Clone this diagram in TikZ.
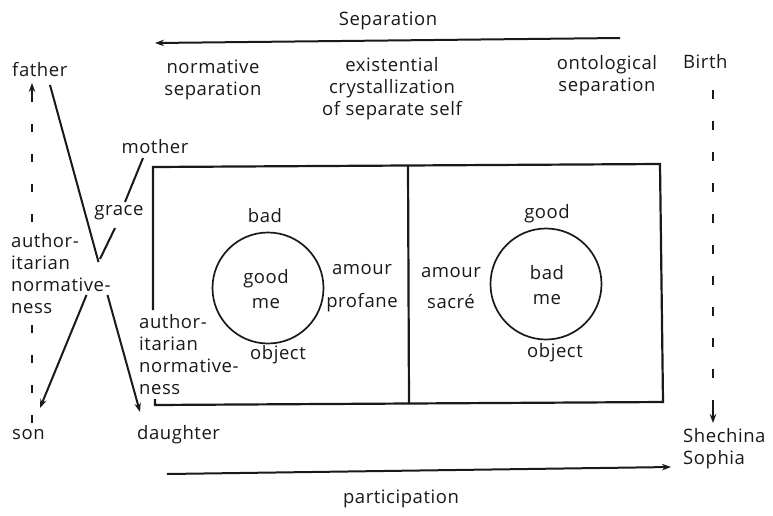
\documentclass[tikz,border=0pt]{standalone}
\usepackage{fontspec}
\setmainfont[LetterSpace=3]{Open Sans}
\usetikzlibrary{arrows.meta}
\begin{document}
\begin{tikzpicture}[x=1pt,y=-1pt,
  lbl/.style={inner sep=0pt, font=\fontsize{18.5}{22}\selectfont, align=center, text=black!90},
  lblw/.style={lbl, align=left, anchor=west},
  ln/.style={line width=2pt, draw=black!90},
  arr/.style={ln, -{Stealth[length=9pt,width=6.5pt]}},
  dsh/.style={line width=2.4pt, draw=black!90, dash pattern=on 9pt off 22pt},
  circ/.style={line width=1.7pt, draw=black!90, circle, minimum size=111pt, inner sep=0pt}
]
\useasboundingbox (0,0) rectangle (773,515);

% top and bottom texts
\node[lbl] (sep) at (388,21) {Separation};
\node[lbl] (normsep) at (213,80) {normative\\separation};
\node[lbl] (exist) at (392,89) {existential\\crystallization\\of separate self};
\node[lbl] (onto) at (607,76) {ontological\\separation};
\node[lblw] (birth) at (683,62) {Birth};
\node[lblw] (shech) at (683,449) {Shechina\\Sophia};
\node[lbl] (part) at (401,499) {participation};

% left texts
\node[lblw] (father) at (12,70) {father};
\node[lblw] (son) at (12,435) {son};
\node[lblw] (daughter) at (137,435) {daughter};
\node[lbl] (mother) at (155,147) {mother};
\node[lbl] (grace) at (119,213) {grace};
\node[lblw] (auth1) at (11,274) {author-\\itarian\\normative-\\ness};
\node[lblw] (auth2) at (139,355) {author-\\itarian\\normative-\\ness};

% box
\coordinate (bl) at (155,405);
\draw[line width=2.2pt, draw=black!90, line join=miter]
  (153,310) -- (153,167) -- (660,164) -- (663,402) -- (bl) -- (155,399);
\coordinate (dt) at (408,165);
\coordinate (db) at (409,404);
\draw[line width=2.2pt, draw=black!90] (dt) -- (db);

% circles
\node[circ] (c1) at (268,288) {};
\node[circ] (c2) at (546,284) {};
\node[lbl] (gme) at (266,289) {good\\[3pt]me};
\node[lbl] (bme) at (547,285) {bad\\[3pt]me};
\node[lbl] (bad1) at (265,216) {bad};
\node[lbl] (obj1) at (278,355) {object};
\node[lbl] (good2) at (547,214) {good};
\node[lbl] (obj2) at (555,353) {object};
\node[lbl] (ap) at (362,288) {amour\\[11pt]profane};
\node[lbl] (as) at (451,288) {amour\\[9pt]sacré};

% separation / participation arrows
\coordinate (sepR) at (620,38);
\coordinate (sepL) at (155,43);
\draw[arr] (sepR) -- (sepL);
\coordinate (partL) at (167,474);
\coordinate (partR) at (671,467);
\draw[arr] (partL) -- (partR);

% Birth dashed
\coordinate (b0) at (713,90);
\coordinate (b1) at (713,423);
\draw[dsh] (b0) -- (713,412);
\draw[arr] (713,408) -- (b1);

% son-father dashed
\coordinate (s0) at (32,423);
\coordinate (s1) at (32,317);
\coordinate (s2) at (32,222);
\coordinate (s3) at (32,83);
\draw[dsh, dash pattern=on 8pt off 22pt] (s0) -- (s1);
\draw[dsh, dash pattern=on 8pt off 22pt] (s2) -- (32,95);
\draw[arr] (32,96) -- (s3);

% X
\coordinate (f0) at (50,85);
\coordinate (x0) at (98.5,262);
\coordinate (f1) at (107.5,295);
\coordinate (d0) at (140,412);
\draw[ln] (f0) -- (x0);
\draw[arr] (f1) -- (d0);
\coordinate (m0) at (143,158);
\coordinate (m1) at (125,202);
\coordinate (m2) at (115,228);
\coordinate (m3) at (100,259);
\coordinate (m4) at (86.5,295);
\coordinate (so0) at (40,408);
\draw[ln] (m0) -- (m1);
\draw[ln] (m2) -- (m3);
\draw[arr] (m4) -- (so0);
\end{tikzpicture}
\end{document}
